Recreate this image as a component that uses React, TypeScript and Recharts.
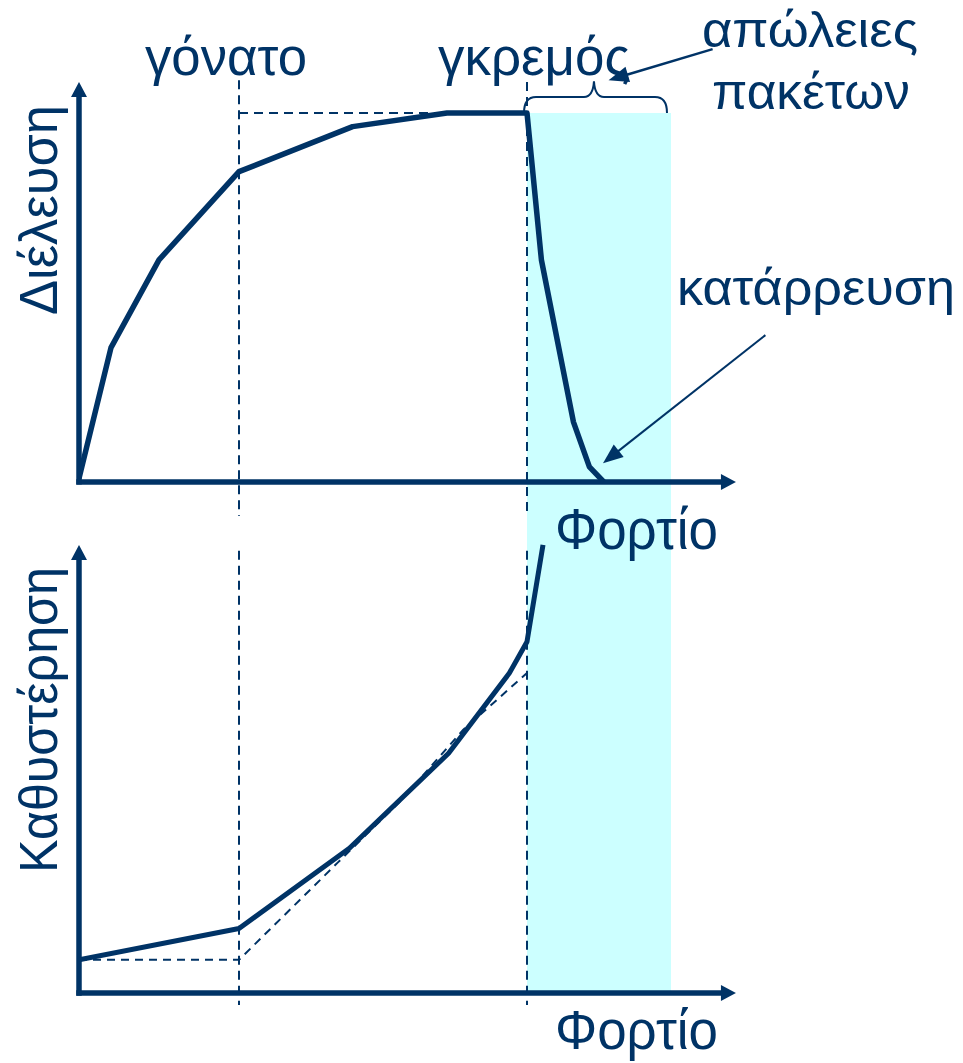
import React from 'react';
import { ComposedChart, Line, XAxis, YAxis, ReferenceLine, ReferenceArea } from 'recharts';

const NAVY = '#003366';
const CYAN = '#CCFFFF';
const FONT = '"Liberation Sans", Arial, sans-serif';

// Load (x) landmarks
const KNEE = 10;
const CLIFF = 28;
const LOSS_END = 37;
const LOAD_MAX = 41;

// Top panel: throughput vs load
const throughputLoad = [0, 2, 5, 10, 17.1, 23, 28, 28.9, 30.9, 31.9, 32.8];
const throughputValue = [1, 36.4, 60.2, 84.1, 96.3, 100, 100, 60.2, 16.3, 4.1, 0];

// Bottom panel: delay vs load
const delayLoad = [0, 10, 16.9, 23.1, 26.9, 28, 29];
const delayValue = [7.4, 14.4, 32.3, 53.5, 71.4, 78.4, 100];

// Bottom panel: idealised delay (dashed)
const idealDelayLoad = [0, 10, 16.2, 20, 24, 28];
const idealDelayValue = [7.4, 7.4, 29.2, 42.5, 58.7, 71.4];

// Axis extents (value units)
const THR_DOMAIN: [number, number] = [-138.5, 108.4];
const DEL_DOMAIN: [number, number] = [0, 203.3];

const throughputData = throughputLoad.map((x, i) => ({ x, v: throughputValue[i] }));
const delayData = delayLoad.map((x, i) => ({ x, v: delayValue[i] }));
const idealDelayData = idealDelayLoad.map((x, i) => ({ x, v: idealDelayValue[i] }));

const arrowShape = (head: number, half: number, width: number) => (p: any) => {
  const { x1, y1, x2, y2 } = p;
  const dx = x2 - x1;
  const dy = y2 - y1;
  const len = Math.hypot(dx, dy) || 1;
  const ux = dx / len;
  const uy = dy / len;
  const bx = x2 - ux * head;
  const by = y2 - uy * head;
  const pts = `${x2},${y2} ${bx - uy * half},${by + ux * half} ${bx + uy * half},${by - ux * half}`;
  return (
    <g>
      <line x1={x1} y1={y1} x2={bx + ux * 1} y2={by + uy * 1} stroke={NAVY} strokeWidth={width} />
      <polygon points={pts} fill={NAVY} />
    </g>
  );
};

const braceShape = (p: any) => {
  const { x, y, width, height } = p;
  const l = x - 3;
  const r = x + width - 4;
  const b = y + height;
  const bar = b - 16;
  const tipX = x + width * 0.465;
  const tipY = y;
  const d = `M ${l} ${b} Q ${l} ${bar} ${l + 12} ${bar} L ${tipX - 10} ${bar} Q ${tipX - 1} ${bar} ${tipX} ${tipY}` +
    ` Q ${tipX + 1} ${bar} ${tipX + 10} ${bar} L ${r - 12} ${bar} Q ${r} ${bar} ${r} ${b}`;
  return <path d={d} fill="none" stroke={NAVY} strokeWidth={2} />;
};

const dashed = { stroke: NAVY, strokeWidth: 2, strokeDasharray: '9 6' };

const Txt = ({ x, y, len, size, children }: any) => (
  <text x={x} y={y} fill={NAVY} fontFamily={FONT} fontSize={size} textLength={len} lengthAdjust="spacingAndGlyphs">
    {children}
  </text>
);

const VTxt = ({ x, y, len, size, children }: any) => (
  <text
    transform={`translate(${x},${y}) rotate(-90)`}
    textAnchor="middle"
    fill={NAVY}
    fontFamily={FONT}
    fontSize={size}
    textLength={len}
    lengthAdjust="spacingAndGlyphs"
  >
    {children}
  </text>
);

export default function App() {
  return (
    <div style={{ position: 'absolute', left: 0, top: 0, width: 963, height: 1063, background: '#fff' }}>
      <ComposedChart width={963} height={1063} margin={{ top: 82, right: 228, bottom: 70, left: 79 }}>
        <XAxis type="number" dataKey="x" domain={[0, LOAD_MAX]} hide allowDataOverflow />
        <YAxis yAxisId="thr" type="number" domain={THR_DOMAIN} hide allowDataOverflow />
        <YAxis yAxisId="del" type="number" domain={DEL_DOMAIN} hide allowDataOverflow />

        {/* packet-loss band */}
        <ReferenceArea
          yAxisId="thr"
          x1={CLIFF}
          x2={LOSS_END}
          y1={THR_DOMAIN[0]}
          y2={100}
          fill={CYAN}
          fillOpacity={1}
          stroke="none"
          ifOverflow="visible"
        />

        {/* dashed guides */}
        <ReferenceLine yAxisId="thr" segment={[{ x: KNEE, y: 108.9 }, { x: KNEE, y: -9.2 }]} {...dashed} ifOverflow="visible" />
        <ReferenceLine yAxisId="thr" segment={[{ x: CLIFF, y: 108.4 }, { x: CLIFF, y: -9.2 }]} {...dashed} ifOverflow="visible" />
        <ReferenceLine yAxisId="del" segment={[{ x: KNEE, y: 98.7 }, { x: KNEE, y: -2.7 }]} {...dashed} ifOverflow="visible" />
        <ReferenceLine yAxisId="del" segment={[{ x: CLIFF, y: 98.7 }, { x: CLIFF, y: -2.7 }]} {...dashed} ifOverflow="visible" />
        <ReferenceLine yAxisId="thr" segment={[{ x: KNEE, y: 100 }, { x: CLIFF, y: 100 }]} {...dashed} ifOverflow="visible" />

        {/* axes with arrows */}
        <ReferenceLine yAxisId="thr" segment={[{ x: -0.17, y: 0 }, { x: 41.06, y: 0 }]} shape={arrowShape(15, 8, 5.5)} ifOverflow="visible" />
        <ReferenceLine yAxisId="thr" segment={[{ x: 0, y: -0.7 }, { x: 0, y: 108.4 }]} shape={arrowShape(15, 8, 5.5)} ifOverflow="visible" />
        <ReferenceLine yAxisId="del" segment={[{ x: -0.17, y: 0 }, { x: 41.06, y: 0 }]} shape={arrowShape(15, 8, 5.5)} ifOverflow="visible" />
        <ReferenceLine yAxisId="del" segment={[{ x: 0, y: -0.6 }, { x: 0, y: 100 }]} shape={arrowShape(15, 8, 5.5)} ifOverflow="visible" />

        {/* brace over the loss region */}
        <ReferenceArea yAxisId="thr" x1={CLIFF} x2={LOSS_END} y1={100} y2={108.6} shape={braceShape} ifOverflow="visible" />

        {/* annotation arrows */}
        <ReferenceLine yAxisId="thr" segment={[{ x: 39.6, y: 117.3 }, { x: 33.1, y: 108.9 }]} shape={arrowShape(20, 8, 2.5)} ifOverflow="visible" />
        <ReferenceLine yAxisId="thr" segment={[{ x: 42.9, y: 39.8 }, { x: 32.75, y: 5.1 }]} shape={arrowShape(20, 8, 2)} ifOverflow="visible" />

        {/* curves */}
        <Line
          yAxisId="del"
          data={idealDelayData}
          dataKey="v"
          type="linear"
          stroke={NAVY}
          strokeWidth={2}
          strokeDasharray="8 6"
          dot={false}
          activeDot={false}
          isAnimationActive={false}
        />
        <Line
          yAxisId="thr"
          data={throughputData}
          dataKey="v"
          type="linear"
          stroke={NAVY}
          strokeWidth={5.5}
          strokeLinejoin="round"
          dot={false}
          activeDot={false}
          isAnimationActive={false}
        />
        <Line
          yAxisId="del"
          data={delayData}
          dataKey="v"
          type="linear"
          stroke={NAVY}
          strokeWidth={5}
          strokeLinejoin="round"
          dot={false}
          activeDot={false}
          isAnimationActive={false}
        />
      </ComposedChart>

      <svg width={963} height={1063} style={{ position: 'absolute', left: 0, top: 0, pointerEvents: 'none' }}>
        <Txt x={145} y={75} len={162} size={54}>γόνατο</Txt>
        <Txt x={438} y={75} len={192} size={54}>γκρεμός</Txt>
        <Txt x={702} y={47} len={216} size={50}>απώλειες</Txt>
        <Txt x={712} y={109} len={198} size={50}>πακέτων</Txt>
        <Txt x={677} y={305} len={278} size={50}>κατάρρευση</Txt>
        <Txt x={555} y={549} len={163} size={58}>Φορτίο</Txt>
        <Txt x={555} y={1049} len={163} size={56}>Φορτίο</Txt>
        <VTxt x={57} y={210} len={210} size={53}>Διέλευση</VTxt>
        <VTxt x={57} y={720} len={306} size={54}>Καθυστέρηση</VTxt>
      </svg>
    </div>
  );
}
